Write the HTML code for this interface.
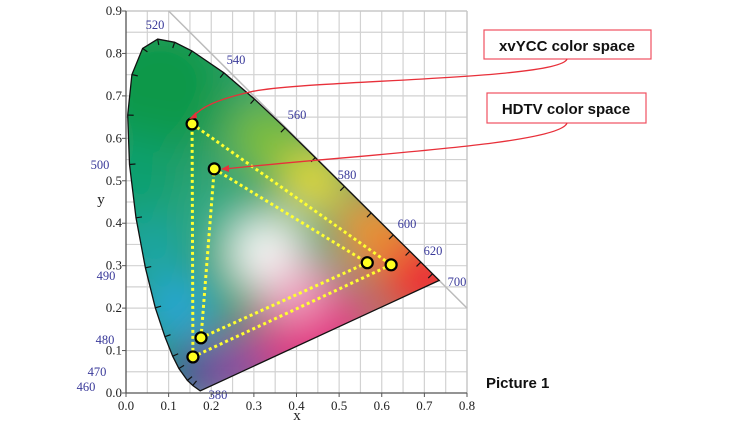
<!DOCTYPE html>
<html><head><meta charset="utf-8"><style>
html,body{margin:0;padding:0;background:#fff;}
svg{display:block;}
.tk{font-family:"Liberation Serif",serif;font-size:13px;fill:#222;}
.wl{font-family:"Liberation Serif",serif;font-size:12.5px;fill:#3a3a9a;}
.bx{font-family:"Liberation Sans",sans-serif;font-size:15px;font-weight:bold;fill:#111;}
</style></head><body>
<svg id="chart" width="750" height="425" viewBox="0 0 750 425" xmlns="http://www.w3.org/2000/svg">
<defs>
<filter id="bl" x="-50%" y="-50%" width="200%" height="200%"><feGaussianBlur stdDeviation="22"/></filter>
<clipPath id="lc"><path id="locusClip"/></clipPath>
</defs>
<g id="grid"></g>
<line id="diag" stroke="#bbb" stroke-width="1.5"/>
<g clip-path="url(#lc)"><g id="blobs" filter="url(#bl)"></g></g>
<path id="locus" fill="none" stroke="#111" stroke-width="1.3"/>
<g id="ticks"></g>
<g id="wls"></g>
<g id="tris"></g>
<g id="axes"></g>
<text class="tk" x="297" y="420" text-anchor="middle" style="font-size:15px">x</text>
<text class="tk" x="101" y="204" text-anchor="middle" style="font-size:15px">y</text>
<g>
<rect x="484" y="30" width="167" height="29" fill="#fff" stroke="#f05060" stroke-width="1.2"/>
<text class="bx" x="567" y="51" text-anchor="middle">xvYCC color space</text>
<path d="M567,59 C560,80 300,80 250,92 C215,100 200,108 193,117" fill="none" stroke="#e8303a" stroke-width="1.3"/>
<path d="M189,119 L196,112 L197,118 Z" fill="#e8303a"/>
</g>
<g>
<rect x="487" y="93" width="159" height="30" fill="#fff" stroke="#f05060" stroke-width="1.2"/>
<text class="bx" x="566" y="114" text-anchor="middle">HDTV color space</text>
<path d="M567,123 C560,145 350,155 225,169" fill="none" stroke="#e8303a" stroke-width="1.3"/>
<path d="M221,169 L229,165 L229,172 Z" fill="#e8303a"/>
</g>
<text class="bx" x="486" y="388">Picture 1</text>
</svg>
<script>
const locusWl=[380,450,460,470,475,480,485,490,495,500,505,510,515,520,525,530,540,550,560,570,580,590,600,610,620,640,700];
const locusX=[0.1741,0.1566,0.1440,0.1241,0.1096,0.0913,0.0687,0.0454,0.0235,0.0082,0.0039,0.0139,0.0389,0.0743,0.1142,0.1547,0.2296,0.3016,0.3731,0.4441,0.5125,0.5752,0.6270,0.6658,0.6915,0.7190,0.7347];
const locusY=[0.0050,0.0177,0.0297,0.0578,0.0868,0.1327,0.2007,0.2950,0.4127,0.5384,0.6548,0.7502,0.8120,0.8338,0.8262,0.8059,0.7543,0.6923,0.6245,0.5547,0.4866,0.4242,0.3725,0.3340,0.3083,0.2809,0.2653];
const xvyccX=[0.155,0.622,0.157];
const xvyccY=[0.634,0.302,0.085];
const hdtvX=[0.207,0.566,0.176];
const hdtvY=[0.528,0.307,0.130];
const xTicks=["0.0","0.1","0.2","0.3","0.4","0.5","0.6","0.7","0.8"];
const yTicks=["0.0","0.1","0.2","0.3","0.4","0.5","0.6","0.7","0.8","0.9"];
const wlLabels=["520","540","560","580","600","620","700","500","490","480","470","460","380"];

const X0=126,X1=467,Y0=393,Y1=11;
const sx=v=>X0+v/0.8*(X1-X0);
const sy=v=>Y0-v/0.9*(Y0-Y1);
const NS="http://www.w3.org/2000/svg";
function mk(t,a,p){const e=document.createElementNS(NS,t);for(const k in a)e.setAttribute(k,a[k]);p.appendChild(e);return e;}

const grid=document.getElementById('grid');
mk('rect',{x:X0,y:Y1,width:X1-X0,height:Y0-Y1,fill:'#fff'},grid);
for(let v=0.05;v<0.8;v+=0.05){mk('line',{x1:sx(v),x2:sx(v),y1:Y1,y2:Y0,stroke:'#d2d2d2','stroke-width':1.2},grid);}
for(let v=0.05;v<0.9;v+=0.05){mk('line',{x1:X0,x2:X1,y1:sy(v),y2:sy(v),stroke:'#d2d2d2','stroke-width':1.2},grid);}
mk('line',{x1:X1,x2:X1,y1:Y1,y2:Y0,stroke:'#c8c8c8','stroke-width':1.5},grid);
mk('line',{x1:X0,x2:X1,y1:Y1,y2:Y1,stroke:'#c8c8c8','stroke-width':1.5},grid);
const dg=document.getElementById('diag');
dg.setAttribute('x1',sx(0.1));dg.setAttribute('y1',sy(0.9));dg.setAttribute('x2',sx(0.8));dg.setAttribute('y2',sy(0.2));

let d='';
for(let i=0;i<locusX.length;i++)d+=(i?'L':'M')+sx(locusX[i]).toFixed(1)+','+sy(locusY[i]).toFixed(1);
d+='Z';
document.getElementById('locus').setAttribute('d',d);
document.getElementById('locusClip').setAttribute('d',d);

const blobX=[0.08,0.03,0.06,0.12,0.16,0.27,0.45,0.70,0.58,0.44,0.33,0.33,0.40,0.22];
const blobY=[0.72,0.50,0.34,0.20,0.04,0.06,0.14,0.27,0.38,0.50,0.60,0.33,0.24,0.42];
const blobC=['#0a9848','#0aa070','#14a6a4','#20a8e4','#2a3a9a','#8a4aa0','#e03080','#ec2a34','#f59020','#f2e020','#80c030','#ffffff','#f4a8c8','#30b090'];
const blobR=[70,45,35,30,30,40,60,50,35,30,35,35,30,25];
const bl=document.getElementById('blobs');
mk('rect',{x:80,y:0,width:420,height:420,fill:'#30a070'},bl);
for(let i=0;i<blobX.length;i++){const c=mk('circle',{cx:sx(blobX[i]),cy:sy(blobY[i]),r:blobR[i],fill:blobC[i]},bl);

}

const tk=document.getElementById('ticks');
for(let i=1;i<locusX.length-1;i++){
const px=sx(locusX[i]),py=sy(locusY[i]);
const dx=sx(locusX[i+1])-sx(locusX[i-1]),dy=sy(locusY[i+1])-sy(locusY[i-1]);
const L=Math.hypot(dx,dy)||1;const nx=dy/L,ny=-dx/L;
mk('line',{x1:px,y1:py,x2:px-nx*6,y2:py-ny*6,stroke:'#111','stroke-width':1.2},tk);}

const wlPos=[[155,29],[236,64],[297,119],[347,179],[407,228],[433,255],[457,286],[100,169],[106,280],[105,344],[97,376],[86,391],[218,399]];
const wg=document.getElementById('wls');
wlLabels.forEach((t,i)=>{const e=mk('text',{class:'wl',x:wlPos[i][0],y:wlPos[i][1],'text-anchor':'middle'},wg);e.textContent=t;

});

const tg=document.getElementById('tris');
function tri(xs,ys,name){
const g=mk('g',{},tg);


for(let i=0;i<3;i++){const j=(i+1)%3;
mk('line',{x1:sx(xs[i]),y1:sy(ys[i]),x2:sx(xs[j]),y2:sy(ys[j]),stroke:'#ffff30','stroke-width':3,'stroke-dasharray':'3,3'},g);}
for(let i=0;i<3;i++){const c=mk('circle',{cx:sx(xs[i]),cy:sy(ys[i]),r:5.5,fill:'#ffff20',stroke:'#000','stroke-width':2.2},g);

}}
tri(xvyccX,xvyccY,'xvycc-triangle');
tri(hdtvX,hdtvY,'hdtv-triangle');

const ax=document.getElementById('axes');
mk('line',{x1:X0,y1:Y1,x2:X0,y2:Y0,stroke:'#555','stroke-width':1.3},ax);
mk('line',{x1:X0,y1:Y0,x2:X1,y2:Y0,stroke:'#555','stroke-width':1.3},ax);
xTicks.forEach((t,i)=>{const v=parseFloat(t);
mk('line',{x1:sx(v),x2:sx(v),y1:Y0,y2:Y0+4,stroke:'#555'},ax);
const e=mk('text',{class:'tk',x:sx(v),y:Y0+17,'text-anchor':'middle'},ax);e.textContent=t;

});
yTicks.forEach((t,i)=>{const v=parseFloat(t);
mk('line',{x1:X0-4,x2:X0,y1:sy(v),y2:sy(v),stroke:'#555'},ax);
const e=mk('text',{class:'tk',x:X0-4,y:sy(v)+4,'text-anchor':'end'},ax);e.textContent=t;

});
</script>
</body></html>
